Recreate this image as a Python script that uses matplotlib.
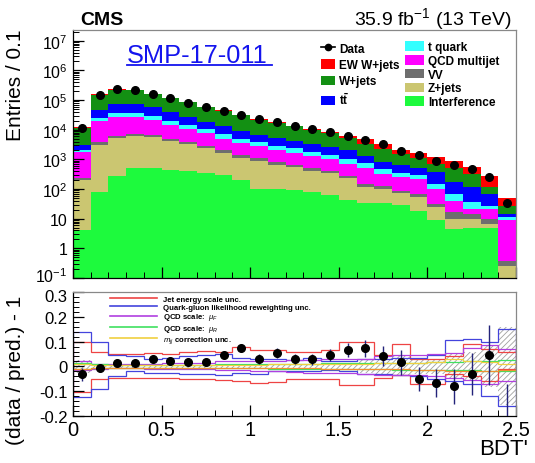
import numpy as np
import matplotlib
matplotlib.use('Agg')
import matplotlib.pyplot as plt
from matplotlib.patches import Patch
from matplotlib.lines import Line2D
from matplotlib.transforms import ScaledTranslation
from matplotlib.ticker import FixedLocator, NullFormatter, MultipleLocator, LogLocator, FixedFormatter

plt.rcParams['font.family'] = ['Liberation Sans', 'DejaVu Sans']
plt.rcParams['mathtext.fontset'] = 'custom'
plt.rcParams['mathtext.rm'] = 'Liberation Sans'
plt.rcParams['mathtext.it'] = 'Liberation Sans:italic'
plt.rcParams['mathtext.bf'] = 'Liberation Sans:bold'
plt.rcParams['hatch.linewidth'] = 0.6

# ---------------- data ----------------
bin_edges = [0.0, 0.1, 0.2, 0.3, 0.4, 0.5, 0.6, 0.7, 0.8, 0.9, 1.0, 1.1, 1.2, 1.3,
             1.4, 1.5, 1.6, 1.7, 1.8, 1.9, 2.0, 2.1, 2.2, 2.3, 2.4, 2.5]

interference = [4.1, 81, 282, 501, 501, 447, 398, 339, 300, 200, 100, 100, 95, 79, 63,
                43, 35, 34, 29, 18, 8.9, 4.6, 4.8, 4.8, 0]
zjets = [196, 3080, 5090, 5525, 5120, 3720, 2910, 2060, 1360, 950, 812, 531, 442, 338,
         284, 186, 85, 66, 43, 34, 15, 5.4, 5.2, 1.8, 0.26]
vv = [29, 640, 940, 1220, 985, 730, 670, 485, 335, 265, 184, 163, 109, 84, 70, 53, 28,
      23, 15, 16, 7, 6.2, 4.5, 3.2, 0.12]
qcd = [1550, 15700, 20000, 19050, 14770, 9890, 6740, 4880, 2900, 2050, 1790, 1344, 1014,
       758, 606, 410, 353, 201, 158, 151, 69, 24, 6.5, 11, 8.5]
tquark = [217, 5620, 10000, 10000, 7460, 5630, 3730, 2960, 2346, 1431, 1097, 746, 739,
          561, 390, 331, 240, 155, 102, 76, 48, 28, 14.5, 6.5, 2.1]
ttbar = [1095, 21650, 37800, 37800, 28700, 18480, 11850, 7900, 6560, 4435, 2626, 2245,
         1867, 1491, 1157, 972, 608, 353, 299, 206, 215, 102, 79, 40, 3.5]
wjets = [8390, 104600, 149800, 139700, 104700, 78600, 56880, 38920, 28860, 20870, 15270,
         11850, 8614, 6461, 5016, 3375, 1962, 1407, 868, 621, 329, 355, 209, 47, 13]
ewwjets = [540, 3500, 5200, 5000, 3800, 2700, 1930, 2720, 2010, 1420, 1030, 1220, 920,
           950, 925, 940, 1366, 1072, 624, 463, 483, 387, 213, 167, 21.5]
data_counts = [11500, 150000, 230000, 220000, 160000, 120000, 82000, 59000, 44000, 32000,
               23000, 18000, 13500, 10700, 8400, 6300, 4600, 3200, 1900, 1400, 900, 650,
               470, 260, 34]

ratio = [-0.032, -0.005, 0.014, 0.015, 0.030, 0.023, 0.016, 0.019, 0.044, 0.073, 0.030,
         0.055, 0.028, 0.028, 0.046, 0.066, 0.073, 0.043, 0.016, -0.051, -0.068, -0.080,
         -0.032, 0.047, -0.30]
ratio_err = [0.027, 0.008, 0.008, 0.008, 0.009, 0.009, 0.010, 0.010, 0.012, 0.015, 0.020,
             0.020, 0.020, 0.022, 0.025, 0.030, 0.035, 0.040, 0.050, 0.047, 0.057, 0.070,
             0.085, 0.120, 0.230]

jes_up = [0.100, 0.060, 0.050, 0.048, 0.055, 0.050, 0.060, 0.062, 0.060, 0.080, 0.066,
          0.066, 0.060, 0.060, 0.066, 0.100, 0.100, 0.045, 0.092, 0.030, 0.030, 0.040,
          0.090, 0.070, 0.060]
jes_dn = [-0.105, -0.050, -0.045, -0.045, -0.046, -0.048, -0.050, -0.050, -0.055, -0.058,
          -0.065, -0.062, -0.050, -0.050, -0.050, -0.076, -0.076, -0.045, -0.035, -0.070,
          -0.070, -0.030, -0.040, -0.060, -0.010]
qg_up = [0.140, 0.100, 0.045, 0.040, 0.030, 0.035, 0.040, 0.045, 0.050, 0.035, 0.030,
         0.030, 0.025, 0.035, 0.020, 0.020, 0.030, 0.030, 0.035, 0.035, 0.045, 0.105,
         0.110, 0.100, 0.150]
qg_dn = [-0.125, -0.090, -0.040, -0.020, -0.025, -0.025, -0.030, -0.030, -0.035, -0.025,
         -0.030, -0.020, -0.020, -0.020, -0.015, -0.020, -0.030, -0.030, -0.035, -0.040,
         -0.050, -0.060, -0.070, -0.120, -0.160]
muf_up = [0.020, 0.010, 0.010, 0.010, 0.010, 0.012, 0.012, 0.015, 0.020, 0.020, 0.020,
          0.022, 0.025, 0.025, 0.028, 0.030, 0.030, 0.040, 0.045, 0.045, 0.050, 0.055,
          0.075, 0.085, 0.070]
muf_dn = [-0.015, -0.010, -0.008, -0.008, -0.010, -0.010, -0.012, -0.012, -0.015, -0.015,
          -0.018, -0.020, -0.022, -0.025, -0.025, -0.028, -0.030, -0.035, -0.035, -0.035,
          -0.040, -0.045, -0.055, -0.070, -0.060]
mur_up = [0.015, 0.008, 0.006, 0.006, 0.006, 0.006, 0.007, 0.007, 0.008, 0.008, 0.009,
          0.010, 0.010, 0.010, 0.012, 0.012, 0.012, 0.014, 0.015, 0.015, 0.016, 0.018,
          0.020, 0.022, 0.025]
mur_dn = [-0.012, -0.007, -0.005, -0.005, -0.005, -0.005, -0.006, -0.006, -0.007, -0.007,
          -0.008, -0.009, -0.009, -0.009, -0.010, -0.010, -0.011, -0.012, -0.013, -0.013,
          -0.014, -0.015, -0.016, -0.018, -0.020]
mjj_up = [0.010, 0.006, 0.005, 0.005, 0.005, 0.005, 0.006, 0.006, 0.006, 0.007, 0.007,
          0.008, 0.008, 0.008, 0.009, 0.010, 0.010, 0.012, 0.014, 0.015, 0.018, 0.030,
          0.020, 0.018, 0.010]
mjj_dn = [-0.010, -0.006, -0.005, -0.005, -0.005, -0.005, -0.006, -0.006, -0.006, -0.007,
          -0.007, -0.008, -0.008, -0.008, -0.009, -0.010, -0.010, -0.012, -0.012, -0.014,
          -0.016, -0.020, -0.020, -0.018, -0.015]
mc_stat = [0.025, 0.010, 0.006, 0.006, 0.006, 0.006, 0.007, 0.007, 0.008, 0.008, 0.009,
           0.010, 0.010, 0.011, 0.012, 0.015, 0.025, 0.033, 0.040, 0.030, 0.030, 0.050,
           0.060, 0.085, 0.157]

stack_names = ['Interference', 'Z+jets', 'VV', 'QCD multijet', 't quark', r'$\mathbf{t\bar{t}}$',
               'W+jets', 'EW W+jets']
stack_vals = [interference, zjets, vv, qcd, tquark, ttbar, wjets, ewwjets]
stack_cols = ['#1dfa3d', '#cbc671', '#6e6e6e', '#ff00ff', '#33ffff', '#0000ff',
              '#139013', '#ff0000']

ytick_vals = [0.1, 1, 10, 100, 1e3, 1e4, 1e5, 1e6, 1e7]
ytick_labels = ['$10^{-1}$', '1', '10', '$10^{2}$', '$10^{3}$', '$10^{4}$', '$10^{5}$',
                '$10^{6}$', '$10^{7}$']

# ---------------- figure ----------------
fig = plt.figure(figsize=(5.35, 4.64), dpi=100)
ax1 = fig.add_axes([73 / 535, 185 / 464, 443 / 535, 248 / 464])
ax2 = fig.add_axes([73 / 535, 47 / 464, 443 / 535, 124 / 464])

edges = np.array(bin_edges)
centers = 0.5 * (edges[1:] + edges[:-1])
cum = np.cumsum(np.array(stack_vals, dtype=float), axis=0)

ax1.set_yscale('log', nonpositive='clip')
for i in range(len(stack_vals) - 1, -1, -1):
    ax1.stairs(cum[i], edges, baseline=1e-3, fill=True, color=stack_cols[i], lw=0)

ax1.plot(centers, data_counts, 'o', color='black', ms=5.5, zorder=5)

ax1.set_xlim(0, 2.5)
ax1.set_ylim(0.1, 2.3e7)
ax1.yaxis.set_major_locator(FixedLocator(ytick_vals))
ax1.yaxis.set_major_formatter(FixedFormatter(ytick_labels))
ax1.yaxis.set_minor_locator(LogLocator(base=10, subs=np.arange(2, 10), numticks=20))
ax1.yaxis.set_minor_formatter(NullFormatter())
ax1.xaxis.set_major_locator(MultipleLocator(0.5))
ax1.xaxis.set_minor_locator(MultipleLocator(0.1))
ax1.tick_params(axis='x', labelbottom=False)

for ax in (ax1, ax2):
    ax.tick_params(which='both', direction='in', top=False, right=False)
    ax.tick_params(which='major', length=8, width=0.9)
    ax.tick_params(which='minor', length=4, width=0.7)
    for s in ax.spines.values():
        s.set_linewidth(0.9)
    ax.spines['top'].set_color('#888888')
    ax.spines['right'].set_color('#888888')
ax1.tick_params(axis='y', labelsize=11.5, pad=4)

ax1.set_ylabel('Entries / 0.1', fontsize=15, labelpad=2)
ax1.yaxis.set_label_coords(-0.108, 0.78)

# legends top
h1 = [Line2D([0], [0], color='black', marker='o', ms=4.5, lw=1.2)]
h1 += [Patch(facecolor=stack_cols[i], edgecolor='none') for i in (7, 6, 5)]
l1 = ax1.legend(h1, ['Data', 'EW W+jets', 'W+jets', stack_names[5]], loc='upper left',
                bbox_to_anchor=(0.560, 0.948), frameon=False,
                prop={'weight': 'bold', 'size': 8.5}, handlelength=1.2, handleheight=0.85,
                labelspacing=0.36, handletextpad=0.35, borderpad=0, borderaxespad=0)
ax1.add_artist(l1)
h2 = [Patch(facecolor=stack_cols[i], edgecolor='none') for i in (4, 3, 2, 1, 0)]
l2 = ax1.legend(h2, ['t quark', 'QCD multijet', 'VV', 'Z+jets', 'Interference'],
                loc='upper left', bbox_to_anchor=(0.749, 0.955), frameon=False,
                prop={'weight': 'bold', 'size': 8.5}, handlelength=1.6, handleheight=0.85,
                labelspacing=0.15, handletextpad=0.35, borderpad=0, borderaxespad=0)

ax1.text(0.122, 0.872, 'SMP-17-011', transform=ax1.transAxes, fontsize=18.3,
         color='#1414ee', ha='left', va='baseline')
ax1.plot([0.122, 0.449], [0.858, 0.858], transform=ax1.transAxes, color='#1414ee', lw=1.3)

fig.text(80 / 535, 0.947, 'CMS', fontsize=14, fontweight='bold', ha='left', va='baseline')
fig.text(512 / 535, 0.945, r'35.9 fb$^{-1}$ (13 TeV)', fontsize=14, ha='right',
         va='baseline')

# ---------------- ratio panel ----------------
ax2.stairs(np.array(mc_stat), edges, baseline=-np.array(mc_stat), fill=True,
           facecolor='none', edgecolor='#a0a0a0', hatch='//////', lw=0)
syst = [(jes_up, jes_dn, '#ee4444', '#ee4444'),
        (qg_up, qg_dn, '#4444dd', '#4444dd'),
        (muf_up, muf_dn, '#b040e0', '#b040e0'),
        (mur_up, mur_dn, '#40e060', '#40e060'),
        (mjj_up, mjj_dn, '#f0d040', '#f09030')]
for up, dn, cu, cd in syst:
    ax2.stairs(up, edges, color=cu, lw=0.9)
    ax2.stairs(dn, edges, color=cd, lw=0.9)

ax2.errorbar(centers, ratio, yerr=ratio_err, fmt='o', color='black', ms=5.5,
             ecolor='#23237a', elinewidth=1.0, capsize=0, zorder=5)

ax2.set_xlim(0, 2.5)
ax2.set_ylim(-0.2, 0.3)
ax2.yaxis.set_major_locator(MultipleLocator(0.1))
ax2.yaxis.set_minor_locator(MultipleLocator(0.02))
ax2.xaxis.set_major_locator(MultipleLocator(0.5))
ax2.xaxis.set_minor_locator(MultipleLocator(0.1))
ax2.yaxis.set_major_formatter(matplotlib.ticker.FuncFormatter(
    lambda v, p: '0' if abs(v) < 1e-9 else ('%.1f' % v)))
ax2.xaxis.set_major_formatter(matplotlib.ticker.FuncFormatter(
    lambda v, p: '0' if abs(v) < 1e-9 else ('%g' % v)))
ax2.tick_params(axis='y', labelsize=12, pad=4)
ax2.tick_params(axis='x', labelsize=14.5, pad=3)
ax2.set_ylabel('(data / pred.) - 1', fontsize=15)
ax2.yaxis.set_label_coords(-0.108, 0.38)
fig.text(528 / 535, 4 / 464, "BDT'", fontsize=16, ha='right', va='bottom')

lh = [Line2D([0], [0], color=c, lw=1.2) for c in ('#ee4444', '#4444dd', '#b040e0',
                                                 '#40e060', '#f0d040')]
ax2.legend(lh, ['Jet energy scale unc.', 'Quark-gluon likelihood reweighting unc.',
                r'QCD scale:  $\mu_{F}$', r'QCD scale:  $\mu_{R}$',
                r'$m_{jj}$ correction unc.'],
           loc='upper left', bbox_to_anchor=(0.083, 0.97), frameon=False,
           prop={'weight': 'bold', 'size': 5.6}, handlelength=6.1, labelspacing=0.05,
           handletextpad=0.75, borderpad=0, borderaxespad=0)

# nudge the two labels that meet at the panel junction
fig.canvas.draw()
for tk in ax1.yaxis.get_major_ticks():
    if tk.label1.get_text() == '$10^{-1}$':
        tk.label1.set_transform(tk.label1.get_transform()
                                + ScaledTranslation(0, 2.5 / 72, fig.dpi_scale_trans))
for tk in ax2.yaxis.get_major_ticks():
    if tk.label1.get_text() == '0.3':
        tk.label1.set_transform(tk.label1.get_transform()
                                + ScaledTranslation(0, -2 / 72, fig.dpi_scale_trans))

fig.savefig('out.png', dpi=100)
